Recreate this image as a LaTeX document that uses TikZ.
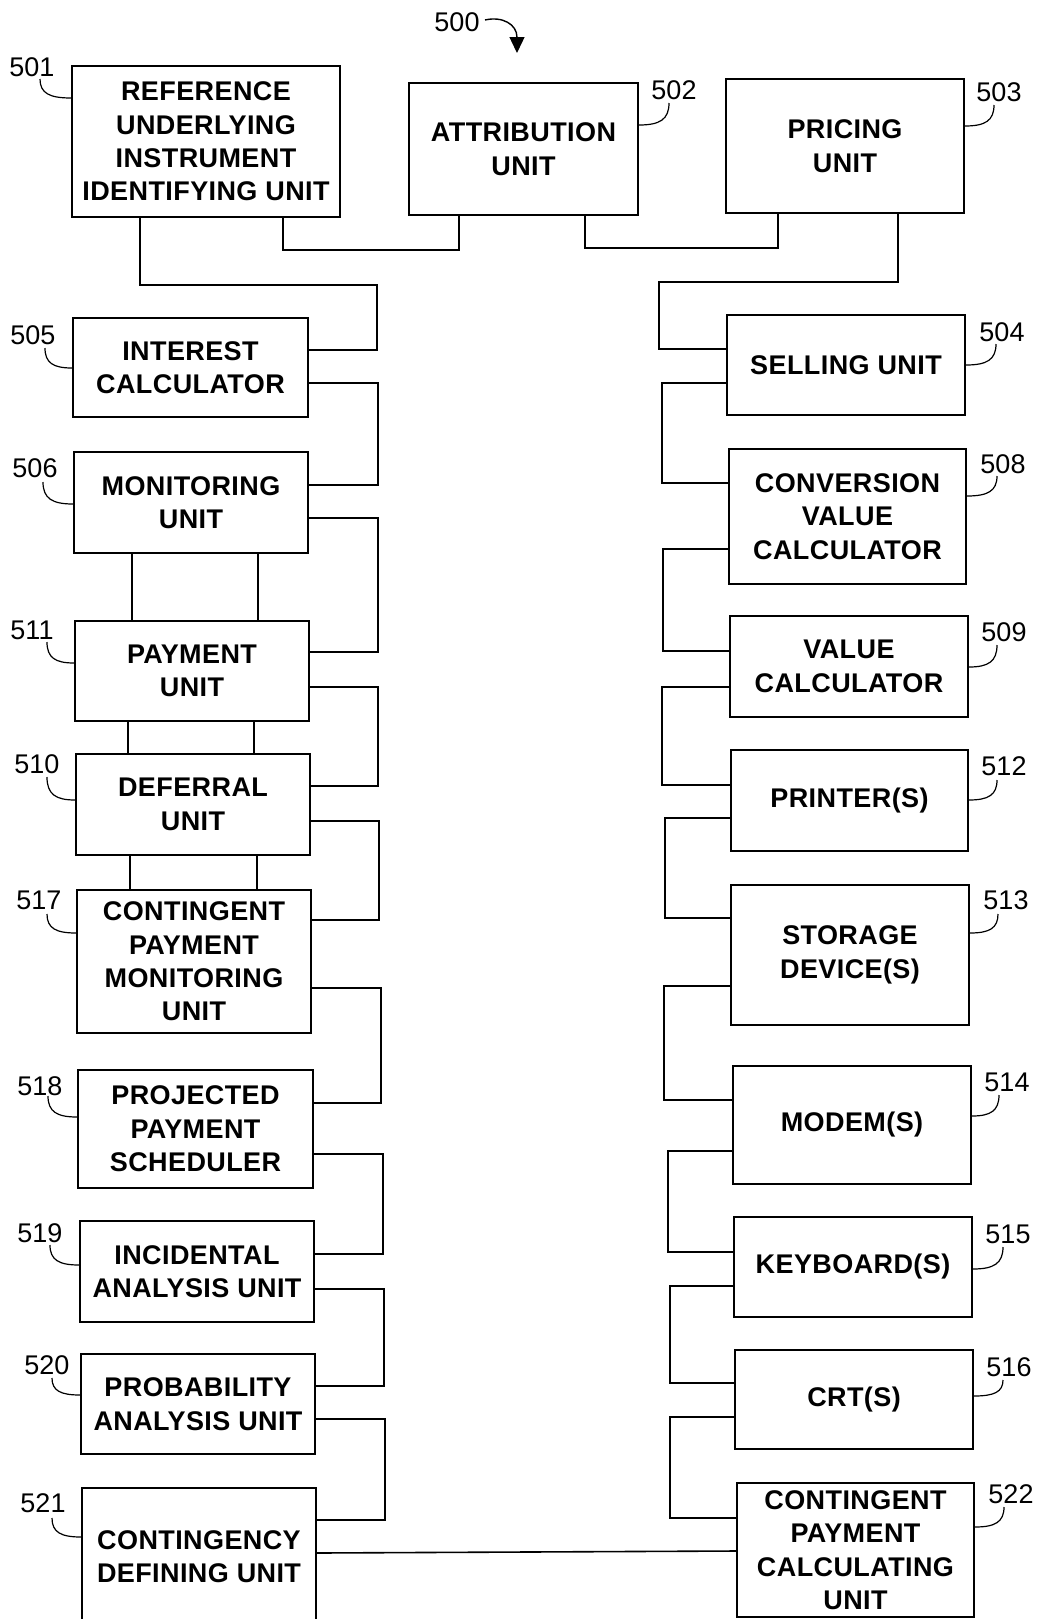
\documentclass[tikz,border=0pt]{standalone}
\usepackage{fontspec}
\setmainfont{Liberation Sans}
\newfontfamily\boxfont{Liberation Sans}[LetterSpace=1.5]
\usetikzlibrary{arrows.meta}
\tikzset{
  box/.style={draw, line width=1pt, inner sep=0pt, align=center,
    font=\boxfont\bfseries\fontsize{13.5}{16.7}\selectfont},
  wire/.style={line width=0.8pt},
  lead/.style={line width=0.6pt},
  refnum/.style={font=\fontsize{13.5}{16}\selectfont, inner sep=0pt},
}
\newcommand{\bx}[6]{\node[box, minimum width={(#4-#2)*0.5pt}, minimum height={(#5-#3)*0.5pt}] (#1) at ({(#2+#4)/2},{(#3+#5)/2}) {#6};}
% leader: start x,y ; node ; approx end x ; end y
\newcommand{\leadL}[5]{\draw[lead] (#1,#2) .. controls (#1,{#2+0.75*(#5-#2)}) and ({#1+0.3*(#4-#1)},#5) .. (#3.west |- 0,#5);}
\newcommand{\leadR}[5]{\draw[lead] (#1,#2) .. controls (#1,{#2+0.75*(#5-#2)}) and ({#1+0.3*(#4-#1)},#5) .. (#3.east |- 0,#5);}
\begin{document}
\begin{tikzpicture}[x=0.5pt, y=-0.5pt]
\useasboundingbox (0,0) rectangle (1037,1619);
\clip (0,0) rectangle (1037,1619);
\fill[white] (0,0) rectangle (1037,1619);

% figure number
\node[refnum] (l500) at (457,22) {500};
\draw[lead, line width=0.7pt, -{Triangle[width=7.5pt,length=8pt]}] (485,20) .. controls (502,16) and (517,24) .. (517,53);

% boxes
\bx{n501}{72}{66}{340}{217}{REFERENCE\\UNDERLYING\\INSTRUMENT\\IDENTIFYING UNIT}
\bx{n502}{409}{83}{638}{215}{ATTRIBUTION\\UNIT}
\bx{n503}{726}{79}{964}{213}{PRICING\\UNIT}
\bx{n504}{727}{315}{965}{415}{SELLING UNIT}
\bx{n505}{73}{318}{308}{417}{INTEREST\\CALCULATOR}
\bx{n506}{74}{452}{308}{553}{MONITORING\\UNIT}
\bx{n511}{75}{621}{309}{721}{PAYMENT\\UNIT}
\bx{n510}{76}{754}{310}{855}{DEFERRAL\\UNIT}
\bx{n517}{77}{890}{311}{1033}{CONTINGENT\\PAYMENT\\MONITORING\\UNIT}
\bx{n518}{78}{1070}{313}{1188}{PROJECTED\\PAYMENT\\SCHEDULER}
\bx{n519}{80}{1221}{314}{1322}{INCIDENTAL\\ANALYSIS UNIT}
\bx{n520}{81}{1354}{315}{1454}{PROBABILITY\\ANALYSIS UNIT}
\bx{n521}{82}{1488}{316}{1625}{CONTINGENCY\\DEFINING UNIT}
\bx{n508}{729}{449}{966}{584}{CONVERSION\\VALUE\\CALCULATOR}
\bx{n509}{730}{616}{968}{717}{VALUE\\CALCULATOR}
\bx{n512}{731}{750}{968}{851}{PRINTER(S)}
\bx{n513}{731}{885}{969}{1025}{STORAGE\\DEVICE(S)}
\bx{n514}{733}{1066}{971}{1184}{MODEM(S)}
\bx{n515}{734}{1217}{972}{1317}{KEYBOARD(S)}
\bx{n516}{735}{1350}{973}{1449}{CRT(S)}
\bx{n522}{737}{1483}{974}{1617}{CONTINGENT\\PAYMENT\\CALCULATING\\UNIT}

% reference numerals
\node[refnum] (l501) at (32,67) {501};
\node[refnum] (l502) at (674,90) {502};
\node[refnum] (l503) at (999,92) {503};
\node[refnum] (l504) at (1002,332) {504};
\node[refnum] (l505) at (33,335) {505};
\node[refnum] (l506) at (35,468) {506};
\node[refnum] (l511) at (32,630) {511};
\node[refnum] (l510) at (37,764) {510};
\node[refnum] (l517) at (39,900) {517};
\node[refnum] (l518) at (40,1086) {518};
\node[refnum] (l519) at (40,1233) {519};
\node[refnum] (l520) at (47,1365) {520};
\node[refnum] (l521) at (43,1503) {521};
\node[refnum] (l508) at (1003,464) {508};
\node[refnum] (l509) at (1004,632) {509};
\node[refnum] (l512) at (1004,766) {512};
\node[refnum] (l513) at (1006,900) {513};
\node[refnum] (l514) at (1007,1082) {514};
\node[refnum] (l515) at (1008,1234) {515};
\node[refnum] (l516) at (1009,1367) {516};
\node[refnum] (l522) at (1011,1494) {522};

% leaders
\leadL{40}{79}{n501}{72}{98}
\leadR{669}{103}{n502}{638}{125}
\leadR{994}{105}{n503}{964}{126}
\leadR{996}{344}{n504}{965}{365}
\leadL{45}{348}{n505}{73}{368}
\leadL{43}{482}{n506}{74}{504}
\leadL{47}{642}{n511}{75}{663}
\leadL{47}{777}{n510}{76}{800}
\leadL{47}{914}{n517}{77}{933}
\leadL{48}{1096}{n518}{78}{1117}
\leadL{50}{1245}{n519}{80}{1265}
\leadL{52}{1378}{n520}{81}{1395}
\leadL{52}{1518}{n521}{82}{1537}
\leadR{997}{476}{n508}{966}{496}
\leadR{997}{645}{n509}{968}{667}
\leadR{997}{780}{n512}{968}{800}
\leadR{998}{914}{n513}{969}{933}
\leadR{999}{1095}{n514}{971}{1116}
\leadR{1003}{1247}{n515}{972}{1269}
\leadR{1003}{1380}{n516}{973}{1396}
\leadR{1004}{1507}{n522}{974}{1527}

% top connectors
\draw[wire] (n501.south -| 140,0) |- (377,285) |- (n505.east |- 0,350);
\draw[wire] (n501.south -| 283,0) -- (283,250) -- (459,250) -- (n502.south -| 459,0);
\draw[wire] (n502.south -| 585,0) -- (585,248) -- (778,248) -- (n503.south -| 778,0);
\draw[wire] (n503.south -| 898,0) |- (659,282) |- (n504.west |- 0,349);

% left column chain
\draw[wire] (n505.east |- 0,383) -| (378,485) -- (n506.east |- 0,485);
\draw[wire] (n506.east |- 0,518) -| (378,652) -- (n511.east |- 0,652);
\draw[wire] (n511.east |- 0,687) -| (378,786) -- (n510.east |- 0,786);
\draw[wire] (n510.east |- 0,821) -| (379,920) -- (n517.east |- 0,920);
\draw[wire] (n517.east |- 0,988) -| (381,1103) -- (n518.east |- 0,1103);
\draw[wire] (n518.east |- 0,1154) -| (383,1254) -- (n519.east |- 0,1254);
\draw[wire] (n519.east |- 0,1289) -| (384,1386) -- (n520.east |- 0,1386);
\draw[wire] (n520.east |- 0,1419) -| (385,1520) -- (n521.east |- 0,1520);

% vertical pairs between stacked boxes
\draw[wire] (n506.south -| 132,0) -- (n511.north -| 132,0);
\draw[wire] (n506.south -| 258,0) -- (n511.north -| 258,0);
\draw[wire] (n511.south -| 128,0) -- (n510.north -| 128,0);
\draw[wire] (n511.south -| 254,0) -- (n510.north -| 254,0);
\draw[wire] (n510.south -| 130,0) -- (n517.north -| 130,0);
\draw[wire] (n510.south -| 257,0) -- (n517.north -| 257,0);

% right column chain
\draw[wire] (n504.west |- 0,383) -| (662,483) -- (n508.west |- 0,483);
\draw[wire] (n508.west |- 0,549) -| (663,651) -- (n509.west |- 0,651);
\draw[wire] (n509.west |- 0,687) -| (662,785) -- (n512.west |- 0,785);
\draw[wire] (n512.west |- 0,818) -| (665,918) -- (n513.west |- 0,918);
\draw[wire] (n513.west |- 0,986) -| (664,1100) -- (n514.west |- 0,1100);
\draw[wire] (n514.west |- 0,1151) -| (668,1252) -- (n515.west |- 0,1252);
\draw[wire] (n515.west |- 0,1286) -| (670,1383) -- (n516.west |- 0,1383);
\draw[wire] (n516.west |- 0,1417) -| (670,1518) -- (n522.west |- 0,1518);

% bottom link
\draw[wire] (n521.east |- 0,1553) -- (n522.west |- 0,1551);
\end{tikzpicture}
\end{document}
